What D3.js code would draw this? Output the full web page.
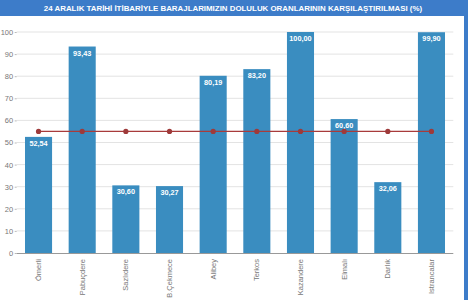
<!DOCTYPE html>
<html><head><meta charset="utf-8">
<script src="https://cdn.jsdelivr.net/npm/d3@7"></script>
<style>body{margin:0;background:#fff}svg{display:block}</style>
</head><body>
<svg id="c" width="468" height="300"></svg>
<script>
const title = "24 ARALIK TARİHİ İTİBARİYLE BARAJLARIMIZIN DOLULUK ORANLARININ KARŞILAŞTIRILMASI (%)";
const categories = ["Ömerli","Pabuçdere","Sazlıdere","B.Çekmece","Alibey","Terkos","Kazandere","Elmalı","Darlık","Istrancalar"];
const values = [52.54,93.43,30.60,30.27,80.19,83.20,100.00,60.60,32.06,99.90];
const average = [55,55,55,55,55,55,55,55,55,55];
const yTicks = [0,10,20,30,40,50,60,70,80,90,100];

const svg = d3.select("#c");
const W = 468, H = 300;
const x = d3.scaleBand().domain(categories).range([16.7,453.3]).paddingInner(0.38).paddingOuter(0.19);
const y = d3.scaleLinear().domain([0,100]).range([253,32]);
const font = "Arial, 'Liberation Sans', sans-serif";

svg.append("rect").attr("x",0).attr("y",0).attr("width",W).attr("height",16).attr("fill","#3d7cc9");
svg.append("rect").attr("x",464).attr("y",0).attr("width",4).attr("height",H).attr("fill","#3d7cc9");
svg.append("text").attr("x",233).attr("y",11).attr("text-anchor","middle")
  .attr("font-family",font).attr("font-weight","bold").attr("font-size",7.9)
  .attr("fill","#fff").text(title);

// grid
svg.append("g").selectAll("line").data(yTicks.filter(d=>d>0)).join("line")
  .attr("x1",16.7).attr("x2",453.3).attr("y1",d=>y(d)).attr("y2",d=>y(d))
  .attr("stroke","#e3e3e3").attr("stroke-width",1);

const ya = svg.append("g").attr("transform","translate(16.7,0)")
  .call(d3.axisLeft(y).tickValues(yTicks).tickSize(2).tickPadding(1.5));
ya.select(".domain").remove();
ya.selectAll("line").attr("stroke","#bbb");
ya.selectAll("text").attr("font-family",font).attr("font-size",7.5).attr("fill","#777");

// bars
svg.append("g").selectAll("rect").data(values).join("rect")
  .attr("x",(d,i)=>x(categories[i])).attr("width",x.bandwidth())
  .attr("y",d=>y(d)).attr("height",d=>y(0)-y(d))
  .attr("fill","#3a8dc0");

svg.append("g").selectAll("text").data(values).join("text")
  .attr("x",(d,i)=>x(categories[i])+x.bandwidth()/2).attr("y",d=>y(d)+9)
  .attr("text-anchor","middle").attr("font-family",font).attr("font-size",7.3)
  .attr("font-weight","bold").attr("fill","#fff")
  .text(d=>d.toFixed(2).replace(".",","));

// x axis
const xa = svg.append("g").attr("transform","translate(0,253)")
  .call(d3.axisBottom(x).tickSize(0).tickPadding(0));
xa.select(".domain").attr("stroke","#999").attr("d","M16.7,0.5H453.3");
xa.selectAll("text").attr("font-family",font).attr("font-size",7.5).attr("fill","#777")
  .attr("transform","rotate(-90)").attr("text-anchor","end")
  .attr("x",-6).attr("y",0).attr("dy","0.32em");

// average line
const line = d3.line().x((d,i)=>x(categories[i])+x.bandwidth()/2).y(d=>y(d));
svg.append("path").datum(average).attr("d",line).attr("fill","none")
  .attr("stroke","#a83b3b").attr("stroke-width",1.3);
svg.append("g").selectAll("circle").data(average).join("circle")
  .attr("cx",(d,i)=>x(categories[i])+x.bandwidth()/2).attr("cy",d=>y(d)).attr("r",2.6)
  .attr("fill","#9e3a3a");
</script>
</body></html>
